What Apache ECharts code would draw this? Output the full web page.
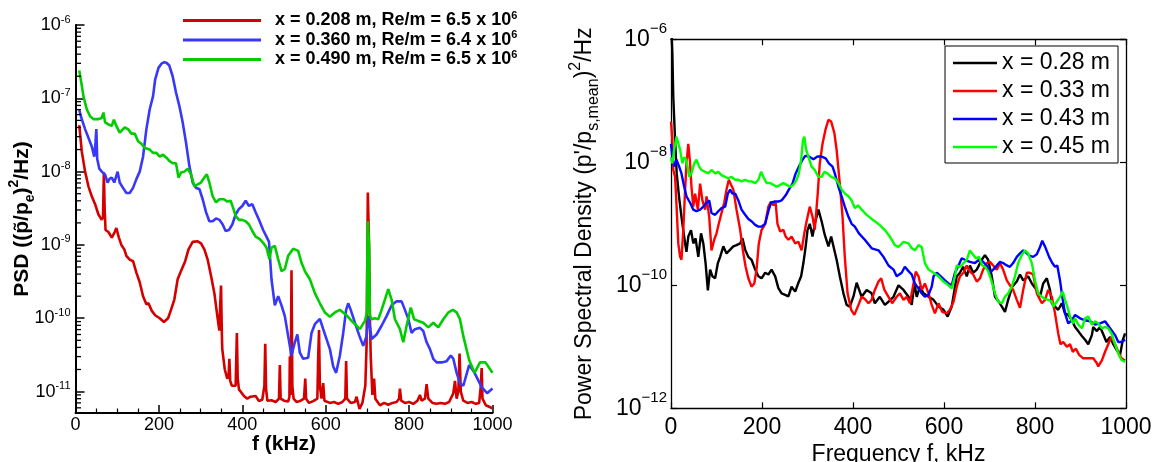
<!DOCTYPE html>
<html>
<head>
<meta charset="utf-8">
<script src="https://cdn.jsdelivr.net/npm/echarts@6/dist/echarts.min.js"></script>
<style>
  html, body { margin: 0; padding: 0; background: #ffffff; }
  #chart { width: 1154px; height: 462px; }
</style>
</head>
<body>
<div id="chart"></div>
<script>
// ---------- Left panel: PSD at three stations, Re/m ~ 6.5e6 ----------
const leftNames = [
  'x = 0.208 m, Re/m = 6.5 x 10^6',
  'x = 0.360 m, Re/m = 6.4 x 10^6',
  'x = 0.490 m, Re/m = 6.5 x 10^6'
];

// [frequency kHz, PSD]
const psd208 = [[9,4.3e-8],[15,1.9e-8],[23,1.0e-8],[31,6.3e-9],[39,4.6e-9],[47,3.6e-9],[55,2.6e-9],[63,2.2e-9],[66,2.4e-9],[68,9.8e-9],[70,3e-9],[72,1.6e-9],[79,1.5e-9],[87,1.26e-9],[94,1.5e-9],[98,1.7e-9],[104,1.26e-9],[110,1.0e-9],[117,8.7e-10],[122,7.1e-10],[130,6.3e-10],[138,6.0e-10],[146,4.2e-10],[154,3.1e-10],[162,2.0e-10],[170,1.55e-10],[175,1.6e-10],[183,1.26e-10],[191,1.1e-10],[202,1.0e-10],[212,8.9e-11],[222,1.0e-10],[229,1.3e-10],[237,1.8e-10],[245,3.4e-10],[253,4.4e-10],[263,6.0e-10],[271,8.7e-10],[281,1.1e-9],[293,1.12e-9],[301,1.05e-9],[309,8.7e-10],[317,6.3e-10],[325,3.8e-10],[333,2.2e-10],[341,9.8e-11],[345,6.8e-11],[347,1.5e-10],[349,2.8e-10],[351,6e-11],[352,3.8e-11],[358,2e-11],[364,1.5e-11],[367,1.6e-11],[369,2.8e-11],[371,1.4e-11],[375,1.2e-11],[384,1.2e-11],[387,6.3e-11],[389,1.5e-11],[392,1.07e-11],[404,8.7e-12],[412,8e-12],[420,8.5e-12],[432,8.7e-12],[440,7.4e-12],[448,7.8e-12],[453,1.2e-11],[455,4.5e-11],[457,1.1e-11],[460,7.5e-12],[470,7.6e-12],[480,7.2e-12],[488,8e-12],[490,2.3e-11],[492,8e-12],[500,7.5e-12],[510,7.3e-12],[513,8.5e-12],[514,3e-11],[516,9e-12],[518,4.5e-10],[520,1.2e-11],[523,8e-12],[530,7.2e-12],[540,7.5e-12],[548,8e-12],[551,1.5e-11],[553,8e-12],[560,7e-12],[570,7.4e-12],[580,8e-12],[582,3e-11],[584,6.9e-11],[586,1.2e-11],[590,8e-12],[594,1.3e-11],[597,7.5e-12],[610,7e-12],[620,7.2e-12],[630,6.8e-12],[640,7.2e-12],[647,8e-12],[649,2.6e-11],[651,8e-12],[660,7e-12],[670,7.2e-12],[674,8.5e-12],[681,5.8e-12],[688,7e-12],[695,1.2e-11],[698,4.2e-11],[700,1e-9],[701,5.2e-9],[703,5.2e-9],[704,1e-9],[706,1e-10],[708,3e-11],[712,9e-12],[716,1.5e-11],[719,8e-12],[730,6.5e-12],[740,7e-12],[750,6.6e-12],[760,7e-12],[770,7.2e-12],[776,8e-12],[778,1.1e-11],[781,7.5e-12],[790,7e-12],[800,7.2e-12],[810,6.8e-12],[820,7.5e-12],[826,9e-12],[830,7.5e-12],[838,8e-12],[842,1.26e-11],[846,8e-12],[856,7e-12],[866,6.8e-12],[876,7e-12],[886,6.8e-12],[896,7.2e-12],[906,9.5e-12],[910,1.4e-11],[914,8e-12],[918,1e-11],[921,3.3e-11],[924,1.0e-11],[930,7.5e-12],[940,7e-12],[950,7.2e-12],[960,6.8e-12],[968,7e-12],[972,1.2e-11],[974,2.1e-11],[976,8e-12],[984,6.5e-12],[992,6.2e-12],[1000,5.9e-12]];

const psd360 = [[9,6.9e-8],[15,5.2e-8],[23,3.8e-8],[31,2.9e-8],[39,2.2e-8],[45,1.6e-8],[48,2.5e-8],[50,3.8e-8],[52,1.5e-8],[57,1.1e-8],[63,1.0e-8],[71,9.1e-9],[77,7.1e-9],[82,8e-9],[87,8.3e-9],[93,7.1e-9],[101,1.0e-8],[106,7.1e-9],[114,6.0e-9],[122,5.1e-9],[130,5.1e-9],[138,6e-9],[146,7.9e-9],[154,1.0e-8],[162,1.6e-8],[170,3.8e-8],[178,7.1e-8],[186,1.07e-7],[191,1.8e-7],[199,2.6e-7],[207,3.0e-7],[213,3.1e-7],[218,3.06e-7],[225,2.8e-7],[233,2.0e-7],[241,1.2e-7],[249,7.9e-8],[257,4.7e-8],[265,2.5e-8],[273,1.2e-8],[281,7.1e-9],[289,6.0e-9],[297,5.8e-9],[305,4.2e-9],[313,2.8e-9],[321,2.1e-9],[329,2.1e-9],[337,2.3e-9],[345,2.2e-9],[353,1.9e-9],[360,1.55e-9],[368,1.6e-9],[376,1.9e-9],[384,2.6e-9],[392,3.1e-9],[400,3.4e-9],[408,4.0e-9],[416,3.4e-9],[424,3.6e-9],[432,2.8e-9],[440,2.2e-9],[450,1.6e-9],[458,1.3e-9],[464,1.1e-9],[470,3.4e-10],[478,1.5e-10],[486,2.0e-10],[494,1.5e-10],[502,1.07e-10],[510,5.7e-11],[518,3.1e-11],[526,4.7e-11],[532,6.0e-11],[538,3.4e-11],[546,2.8e-11],[558,2.9e-11],[566,6.3e-11],[574,8.3e-11],[586,9.8e-11],[594,7.1e-11],[602,5.2e-11],[610,3.8e-11],[618,2.2e-11],[625,1.8e-11],[634,3.1e-11],[642,6.3e-11],[649,1.3e-10],[654,1.6e-10],[660,1.3e-10],[670,8.7e-11],[681,5.7e-11],[690,4.2e-11],[698,5.7e-11],[703,1.07e-10],[710,5.2e-11],[722,6.0e-11],[734,7.9e-11],[746,1.07e-10],[758,1.5e-10],[770,1.7e-10],[782,1.7e-10],[790,1.3e-10],[798,9.8e-11],[806,6.3e-11],[814,7.1e-11],[826,7.4e-11],[834,6.7e-11],[842,4.7e-11],[850,3.8e-11],[858,2.8e-11],[866,2.5e-11],[878,2.5e-11],[890,2.6e-11],[900,3.1e-11],[906,2.8e-11],[914,1.8e-11],[922,1.3e-11],[930,1.2e-11],[944,2.3e-11],[957,1.8e-11],[974,1.15e-11],[987,9.5e-12],[1000,1.1e-11]];

const psd490 = [[9,2.4e-7],[15,1.5e-7],[19,1.07e-7],[27,7.1e-8],[35,5.7e-8],[43,5.2e-8],[55,5.2e-8],[63,5.4e-8],[67,6.4e-8],[71,4.7e-8],[79,4.4e-8],[87,4.2e-8],[92,5.1e-8],[98,4.2e-8],[106,3.4e-8],[118,4.0e-8],[126,3.8e-8],[134,3.3e-8],[142,3.3e-8],[150,2.6e-8],[158,2.4e-8],[166,2.1e-8],[178,2.0e-8],[186,1.8e-8],[194,1.8e-8],[202,1.6e-8],[210,1.7e-8],[218,1.55e-8],[225,1.4e-8],[233,1.3e-8],[241,1.3e-8],[247,8.3e-9],[253,9.7e-9],[261,1.0e-8],[269,1.1e-8],[277,9.2e-9],[285,6.3e-9],[293,6.7e-9],[301,7.1e-9],[309,8.3e-9],[315,9.2e-9],[321,7.1e-9],[329,4.6e-9],[337,3.8e-9],[345,4.2e-9],[356,4.2e-9],[364,3.9e-9],[372,4.0e-9],[378,3.2e-9],[384,2.5e-9],[392,2.2e-9],[400,2.2e-9],[408,2.1e-9],[416,1.9e-9],[424,1.55e-9],[432,1.3e-9],[442,1.2e-9],[450,1.07e-9],[458,9.2e-10],[465,6.4e-10],[470,9.2e-10],[478,9.7e-10],[486,6.4e-10],[494,4.4e-10],[502,4.7e-10],[510,7.1e-10],[522,8.9e-10],[534,8.3e-10],[542,5.7e-10],[550,4.4e-10],[562,3.4e-10],[574,2.2e-10],[586,1.6e-10],[598,1.2e-10],[610,1.05e-10],[622,1.2e-10],[634,1.3e-10],[642,1.2e-10],[652,1.07e-10],[662,9.2e-11],[674,7.9e-11],[682,7.1e-11],[694,9.2e-11],[699,1.2e-10],[700,1e-9],[701,2.1e-9],[703,2.1e-9],[704,1e-9],[706,1.1e-10],[710,9.7e-11],[718,1.0e-10],[726,9.7e-11],[734,1.3e-10],[742,1.8e-10],[750,2.5e-10],[758,1.8e-10],[766,9.7e-11],[778,7.1e-11],[786,4.7e-11],[794,7.9e-11],[804,1.4e-10],[812,9.7e-11],[822,9.2e-11],[834,8.7e-11],[846,7.5e-11],[858,8.7e-11],[870,7.5e-11],[882,9.7e-11],[894,1.2e-10],[905,1.3e-10],[914,1.2e-10],[922,9.7e-11],[930,5.7e-11],[944,2.7e-11],[957,1.8e-11],[970,2.5e-11],[983,2.5e-11],[1000,1.8e-11]];

// ---------- Right panel: PSD at four stations ----------
const rightNames = ['x = 0.28 m', 'x = 0.33 m', 'x = 0.43 m', 'x = 0.45 m'];

const psd028 = [[1,1.5e-6],[3,6e-7],[5,1.17e-7],[9,2.3e-8],[12.5,6.6e-9],[17.6,2.8e-9],[23,1.3e-9],[31,4.8e-10],[34,3.5e-10],[38,6.2e-10],[44,7.9e-10],[49,4.8e-10],[54,5.8e-10],[60,2.9e-10],[66,7e-10],[71,4.8e-10],[76,2.3e-10],[81,8.3e-11],[86,1.8e-10],[91,1.4e-10],[97,1.3e-10],[103,2.3e-10],[108,2.9e-10],[115,4.3e-10],[122,3.3e-10],[130,3.8e-10],[137,4.3e-10],[144,4.5e-10],[152,4.8e-10],[157,5.8e-10],[163,3.8e-10],[170,2.9e-10],[177,2.6e-10],[185,1.8e-10],[192,1.4e-10],[199,1.3e-10],[207,1.6e-10],[214,1.5e-10],[221,1.8e-10],[229,1.4e-10],[236,9e-11],[243,7.4e-11],[251,7e-11],[258,6.6e-11],[265,9.5e-11],[273,7.9e-11],[280,1.1e-10],[286,1.4e-10],[291,2.3e-10],[296,4.3e-10],[300,7.9e-10],[305,1.0e-9],[311,6.2e-10],[316,1.0e-9],[324,1.7e-9],[331,1.1e-9],[338,6.6e-10],[346,4.3e-10],[352,6.2e-10],[357,4.3e-10],[364,2.6e-10],[371,1.4e-10],[379,7.4e-11],[386,4.8e-11],[393,4.5e-11],[401,6.6e-11],[408,1.1e-10],[412,1.07e-10],[419,6.5e-11],[430,8.4e-11],[441,7.4e-11],[448,5.1e-11],[459,6.5e-11],[470,4.8e-11],[478,5.4e-11],[489,6.5e-11],[500,1.0e-10],[511,8.4e-11],[522,6.5e-11],[529,4.8e-11],[535,1.07e-10],[540,6.5e-11],[547,9.5e-11],[555,7.4e-11],[566,6.5e-11],[577,5.8e-11],[588,4.5e-11],[599,4e-11],[608,3.1e-11],[617,4.5e-11],[623,8.4e-11],[628,1.4e-10],[635,1.6e-10],[642,2.0e-10],[650,1.4e-10],[657,2.1e-10],[664,1.6e-10],[672,1.8e-10],[683,2.6e-10],[690,3.1e-10],[697,2.6e-10],[705,1.4e-10],[712,6.5e-11],[723,5.1e-11],[734,3.7e-11],[741,5.8e-11],[750,9.5e-11],[760,1.15e-10],[767,1.5e-10],[774,1.2e-10],[785,1.4e-10],[793,1.07e-10],[804,8.4e-11],[811,6.5e-11],[818,1.07e-10],[826,1.3e-10],[833,8.4e-11],[837,5.1e-11],[844,4.5e-11],[851,4e-11],[859,5.1e-11],[866,3.5e-11],[873,3.3e-11],[881,2.7e-11],[888,2.1e-11],[895,1.8e-11],[903,1.5e-11],[910,1.3e-11],[917,1.1e-11],[925,1.55e-11],[928,2.1e-11],[936,1.8e-11],[943,2.1e-11],[950,1.6e-11],[957,1.2e-11],[965,1.45e-11],[972,1.1e-11],[979,9e-12],[987,7.4e-12],[993,1.3e-11],[998,1.65e-11]];

const psd033 = [[0,4.6e-8],[3,2.3e-8],[5,7.5e-9],[9,5.8e-9],[12,2.1e-9],[16,4.8e-10],[20,2.9e-10],[23,2.6e-10],[27,8e-10],[31,3.6e-9],[34,9.6e-9],[38,2.0e-8],[42,9.6e-9],[45,4.0e-9],[49,1.9e-9],[53,3.1e-9],[59,1.7e-9],[64,4.5e-9],[69,2.4e-9],[75,1.7e-9],[78,2.8e-9],[84,1.3e-9],[89,3.7e-10],[95,5.5e-10],[100,7e-10],[105,1.0e-9],[111,1.5e-9],[117,2.2e-9],[122,3.6e-9],[127,5.2e-9],[132,4.3e-9],[137,3.6e-9],[144,1.7e-9],[152,8e-10],[158,3.7e-10],[164,2e-10],[170,1.3e-10],[177,9.5e-11],[183,1.07e-10],[188,1.8e-10],[193,4.8e-10],[199,7.9e-10],[207,1.0e-9],[214,1.9e-9],[220,2.3e-9],[225,2.0e-9],[230,2.2e-9],[234,1.0e-9],[240,7.5e-10],[247,8e-10],[252,6.2e-10],[258,5.5e-10],[265,6.2e-10],[273,4.8e-10],[280,5.1e-10],[287,3.7e-10],[293,7e-10],[298,1.1e-9],[305,1.9e-9],[311,1.3e-9],[316,8e-10],[322,2.8e-9],[327,9.6e-9],[333,2.0e-8],[340,3.5e-8],[346,4.9e-8],[352,4.6e-8],[359,3.0e-8],[364,1.6e-8],[371,4.5e-9],[377,1.3e-9],[382,2.9e-10],[388,7.5e-11],[396,4e-11],[403,3.3e-11],[412,4.8e-11],[419,6.5e-11],[426,6e-11],[434,5.1e-11],[441,5.8e-11],[448,8.4e-11],[456,1.15e-10],[462,1.3e-10],[469,8.4e-11],[478,6.5e-11],[486,5.1e-11],[496,6.5e-11],[503,7.4e-11],[511,5.8e-11],[518,6.5e-11],[525,5.1e-11],[533,1.07e-10],[538,1.67e-10],[544,1.4e-10],[551,8.4e-11],[558,1.07e-10],[566,7.4e-11],[573,4.8e-11],[580,3.5e-11],[588,5.1e-11],[596,3.7e-11],[606,3.5e-11],[613,4e-11],[621,5.4e-11],[628,9.5e-11],[635,1.4e-10],[643,1.6e-10],[650,2.1e-10],[657,1.67e-10],[664,1.5e-10],[672,1.15e-10],[679,1.3e-10],[686,1.8e-10],[694,2.3e-10],[701,2.4e-10],[708,2.1e-10],[716,1.8e-10],[723,2.3e-10],[730,1.8e-10],[738,1.2e-10],[745,1.0e-10],[752,8.4e-11],[760,5.8e-11],[767,4.3e-11],[774,8.4e-11],[782,1.6e-10],[789,1.6e-10],[796,1.5e-10],[804,7.4e-11],[815,5.1e-11],[822,5.8e-11],[829,8.4e-11],[837,6.5e-11],[844,3.5e-11],[851,1.65e-11],[856,1.1e-11],[862,1.2e-11],[870,1.0e-11],[877,1.1e-11],[883,8.3e-12],[890,9.3e-12],[897,7.4e-12],[906,6.5e-12],[917,6.5e-12],[928,6.5e-12],[936,5.4e-12],[939,4.8e-12],[947,6.0e-12],[954,8.3e-12],[961,1.1e-11],[968,1.45e-11],[976,1.1e-11],[983,8.3e-12],[990,6.5e-12],[998,6e-12]];

const psd043 = [[0,2.0e-8],[3,1.2e-8],[7,8.5e-9],[12,1.1e-8],[18,8.5e-9],[23,6.6e-9],[29,4.0e-9],[34,2.8e-9],[42,2.2e-9],[49,1.7e-9],[56,1.6e-9],[64,1.7e-9],[71,1.9e-9],[78,2.2e-9],[84,2.4e-9],[89,1.5e-9],[97,1.4e-9],[104,1.6e-9],[111,1.8e-9],[119,1.9e-9],[125,3.1e-9],[130,3.6e-9],[135,3.1e-9],[141,3.1e-9],[148,2.4e-9],[155,1.7e-9],[163,1.4e-9],[170,1.2e-9],[177,1.1e-9],[185,9.6e-10],[192,9e-10],[199,9e-10],[207,1.0e-9],[214,1.6e-9],[220,2.2e-9],[227,2.3e-9],[236,2.3e-9],[243,2.4e-9],[252,2.9e-9],[259,3.6e-9],[267,4.5e-9],[274,6.6e-9],[281,8.5e-9],[289,1.1e-8],[295,1.27e-8],[303,1.24e-8],[313,1.12e-8],[322,1.24e-8],[331,1.24e-8],[340,1.16e-8],[347,9.6e-9],[355,8.5e-9],[360,6.6e-9],[368,4e-9],[375,2.8e-9],[382,1.9e-9],[390,1.3e-9],[397,1.0e-9],[404,9e-10],[413,7e-10],[426,5.5e-10],[441,4.0e-10],[456,3.7e-10],[467,2.9e-10],[478,2.1e-10],[489,1.8e-10],[496,1.4e-10],[507,1.6e-10],[514,2.0e-10],[522,1.7e-10],[529,1.5e-10],[536,1.07e-10],[544,8.9e-11],[551,7.4e-11],[558,6.5e-11],[566,7e-11],[573,9.5e-11],[577,1.4e-10],[584,1.6e-10],[593,1.4e-10],[602,1.2e-10],[610,1.07e-10],[617,1.0e-10],[624,1.6e-10],[632,2.1e-10],[639,2.75e-10],[646,2.6e-10],[657,2.4e-10],[668,2.3e-10],[677,2.6e-10],[686,2.4e-10],[694,2.1e-10],[701,1.6e-10],[708,1.8e-10],[716,2.1e-10],[723,2.4e-10],[730,2.3e-10],[738,2.1e-10],[745,2.0e-10],[752,2.3e-10],[760,2.9e-10],[767,3.3e-10],[774,3.7e-10],[782,3.3e-10],[789,3.0e-10],[796,2.9e-10],[804,3.2e-10],[811,4.2e-10],[816,5.3e-10],[823,4.1e-10],[831,2.9e-10],[838,2.3e-10],[844,2e-10],[849,2.1e-10],[855,1.2e-10],[860,6.5e-11],[866,3.5e-11],[873,2.4e-11],[881,2.7e-11],[888,3.3e-11],[899,2.9e-11],[910,2.7e-11],[921,2.6e-11],[932,2.3e-11],[943,2.4e-11],[954,2.6e-11],[965,2e-11],[976,1.55e-11],[983,1.2e-11],[990,1.2e-11],[998,1.3e-11]];

const psd045 = [[0,1.2e-8],[3,9.6e-9],[7,1.6e-8],[12,2.6e-8],[16,2.8e-8],[20,1.6e-8],[25,9.6e-9],[29,1.2e-8],[34,1.1e-8],[40,5.8e-9],[45,6.6e-9],[51,9.6e-9],[56,1.1e-8],[62,8.5e-9],[67,7.5e-9],[75,7e-9],[82,6.6e-9],[89,7.5e-9],[97,6.6e-9],[104,7e-9],[111,6.2e-9],[119,5.8e-9],[126,5.5e-9],[133,5.8e-9],[141,5.2e-9],[148,5.2e-9],[155,4.9e-9],[163,5.2e-9],[170,4.9e-9],[177,4.9e-9],[185,4.6e-9],[192,5.2e-9],[198,7e-9],[203,5.8e-9],[210,4.6e-9],[218,4.6e-9],[225,4.3e-9],[232,4.0e-9],[240,4.3e-9],[247,4.6e-9],[254,4.3e-9],[262,4.0e-9],[269,4.3e-9],[276,5.2e-9],[281,6.6e-9],[286,1.1e-8],[290,2.3e-8],[293,2.6e-8],[297,1.6e-8],[302,1.24e-8],[309,8.5e-9],[316,7.5e-9],[324,5.8e-9],[331,5.8e-9],[337,7e-9],[344,6.6e-9],[352,5.8e-9],[360,5.5e-9],[368,4.6e-9],[375,3.6e-9],[382,3.1e-9],[390,2.8e-9],[397,2.4e-9],[404,1.8e-9],[411,2.0e-9],[419,1.7e-9],[430,1.4e-9],[441,1.2e-9],[448,1.1e-9],[459,9.5e-10],[470,7.9e-10],[481,6.2e-10],[492,4.5e-10],[500,4.2e-10],[511,5.1e-10],[522,4.8e-10],[529,4.0e-10],[536,3.7e-10],[544,4.5e-10],[551,4.2e-10],[558,2.3e-10],[566,1.8e-10],[577,1.6e-10],[588,1.4e-10],[599,1.15e-10],[610,1.0e-10],[617,8.9e-11],[624,1.4e-10],[628,2.1e-10],[635,2.0e-10],[643,2.3e-10],[650,2.6e-10],[657,3.7e-10],[662,3.3e-10],[670,2.75e-10],[677,2.9e-10],[684,2.1e-10],[690,2.0e-10],[697,1.7e-10],[705,1.15e-10],[712,7.4e-11],[719,5.4e-11],[727,5.1e-11],[734,6.5e-11],[741,7.4e-11],[749,9.5e-11],[756,1.4e-10],[763,2.3e-10],[771,3.1e-10],[778,3.7e-10],[785,3.3e-10],[793,2.3e-10],[800,1.2e-10],[807,7.4e-11],[815,6.5e-11],[822,6e-11],[829,5.8e-11],[837,5.5e-11],[840,4.5e-11],[848,5.4e-11],[855,6.5e-11],[861,7.9e-11],[866,5.8e-11],[871,4.5e-11],[877,3.1e-11],[883,2.4e-11],[888,2.9e-11],[895,2.3e-11],[903,2e-11],[910,2.9e-11],[917,3.1e-11],[925,2.3e-11],[932,2.6e-11],[939,2.4e-11],[947,2e-11],[954,2.1e-11],[961,2e-11],[968,1.65e-11],[976,1.1e-11],[983,7.8e-12],[990,6.1e-12],[998,5.7e-12]];

// Axis ranges and tick settings
const freqTicks = { min: 0, max: 1000, interval: 200 };
const leftYRange = [5.1e-12, 1e-6];
const rightYRange = [1e-12, 1e-6];

const FONT = '"Liberation Sans", Arial, Helvetica, sans-serif';
const leftColors = ['#d40000', '#3838f8', '#00cc00'];
const rightColors = ['#000000', '#ff0000', '#0000ff', '#00ff00'];

// "10" with a raised exponent; blank for values off the decades
function powerLabel(minus) {
  return function (v) {
    const l = Math.log10(v);
    const e = Math.round(l);
    if (Math.abs(l - e) > 1e-6) return '';
    return '{b|10}{s|' + (e < 0 ? minus + Math.abs(e) : e) + '}';
  };
}
const plainNumber = v => String(v);

// minor decade ticks (2..9 x 10^n) for the left log axis
const leftMinorTicks = [];
for (let e = -12; e <= -7; e++) {
  for (let k = 2; k <= 9; k++) {
    const v = k * Math.pow(10, e);
    if (v >= leftYRange[0] && v <= leftYRange[1]) leftMinorTicks.push([0, v]);
  }
}

const blackLine = { lineStyle: { color: '#000', width: 2 } };
const thinBox = { lineStyle: { color: '#000', width: 1.3 } };

function lineSeries(name, data, color, xi, yi, width) {
  return {
    type: 'line', name: name, data: data, color: color,
    xAxisIndex: xi, yAxisIndex: yi, symbol: 'none', showSymbol: false,
    lineStyle: { width: width, color: color }, animation: false, silent: true
  };
}

const option = {
  animation: false,
  backgroundColor: '#ffffff',
  textStyle: { fontFamily: FONT },
  grid: [
    { left: 75.5, top: 25, width: 417, height: 388, containLabel: false, outerBoundsMode: 'none' },
    { left: 671, top: 39.3, width: 455, height: 369, containLabel: false, outerBoundsMode: 'none' }
  ],
  legend: [
    {
      data: leftNames, orient: 'vertical', left: 183, top: 10, padding: 0,
      icon: 'rect', itemWidth: 78, itemHeight: 3, itemGap: 0, selectedMode: false,
      formatter: n => '{g|}{t|' + n.replace(/10\^6$/, '10') + '}{s|6}',
      textStyle: {
        rich: {
          g: { width: 9 },
          t: { fontFamily: FONT, fontWeight: 'bold', fontSize: 18, lineHeight: 21, color: '#000' },
          s: { fontFamily: FONT, fontWeight: 'bold', fontSize: 11, lineHeight: 11, verticalAlign: 'top', color: '#000' }
        }
      }
    },
    {
      data: rightNames, orient: 'vertical', left: 945, top: 46, padding: [3, 8, 2, 8],
      icon: 'rect', itemWidth: 44, itemHeight: 2.5, itemGap: 0, selectedMode: false,
      borderColor: '#000', borderWidth: 1, backgroundColor: '#fff',
      textStyle: { fontFamily: FONT, fontSize: 23, lineHeight: 28, color: '#000' }
    }
  ],
  xAxis: [
    {
      gridIndex: 0, type: 'value', position: 'bottom', ...freqTicks,
      axisLine: { show: true, onZero: false, ...blackLine },
      axisTick: { show: true, inside: true, length: 8, lineStyle: { color: '#000', width: 1.5 } },
      minorTick: { show: true, splitNumber: 4, length: 4.5, lineStyle: { color: '#000', width: 1.2 } },
      splitLine: { show: false },
      axisLabel: { fontFamily: FONT, fontSize: 18, color: '#000', margin: 3, formatter: plainNumber },
      name: 'f (kHz)', nameLocation: 'middle', nameGap: 21, nameMoveOverlap: false,
      nameTextStyle: { fontFamily: FONT, fontSize: 21, fontWeight: 'bold', color: '#000' }
    },
    {
      gridIndex: 1, type: 'value', position: 'bottom', ...freqTicks,
      axisLine: { show: true, onZero: false, ...thinBox },
      axisTick: { show: true, inside: true, length: 6, lineStyle: { color: '#000', width: 1.2 } },
      splitLine: { show: false },
      axisLabel: { fontFamily: FONT, fontSize: 23, color: '#000', margin: 8, formatter: plainNumber },
      name: 'Frequency f, kHz', nameLocation: 'middle', nameGap: 35, nameMoveOverlap: false,
      nameTextStyle: { fontFamily: FONT, fontSize: 23, color: '#000' }
    },
    {
      gridIndex: 1, type: 'value', position: 'top', ...freqTicks,
      axisLine: { show: true, onZero: false, ...thinBox },
      axisTick: { show: true, inside: true, length: 6, lineStyle: { color: '#000', width: 1.2 } },
      splitLine: { show: false }, axisLabel: { show: false }
    }
  ],
  yAxis: [
    {
      gridIndex: 0, type: 'log', logBase: 10, min: leftYRange[0], max: leftYRange[1],
      axisLine: { show: true, onZero: false, ...blackLine },
      axisTick: { show: true, inside: true, length: 9, lineStyle: { color: '#000', width: 1.5 } },
      splitLine: { show: false },
      axisLabel: {
        margin: 5, formatter: powerLabel('-'),
        rich: {
          b: { fontFamily: FONT, fontSize: 18, lineHeight: 22, color: '#000' },
          s: { fontFamily: FONT, fontSize: 11, lineHeight: 11, verticalAlign: 'top', color: '#000' }
        }
      },
      name: '{a|PSD ((p\u0303/p}{sub|e}{a|)}{sup|2}{a|/Hz)}',
      nameLocation: 'middle', nameRotate: 90, nameGap: 38, nameMoveOverlap: false,
      nameTextStyle: {
        rich: {
          a: { fontFamily: FONT, fontSize: 21, fontWeight: 'bold', lineHeight: 30, color: '#000' },
          sub: { fontFamily: FONT, fontSize: 14, fontWeight: 'bold', lineHeight: 14, verticalAlign: 'bottom', color: '#000' },
          sup: { fontFamily: FONT, fontSize: 14, fontWeight: 'bold', lineHeight: 14, verticalAlign: 'top', color: '#000' }
        }
      }
    },
    {
      gridIndex: 1, type: 'log', logBase: 100, min: rightYRange[0], max: rightYRange[1],
      axisLine: { show: true, onZero: false, ...thinBox },
      axisTick: { show: true, inside: true, length: 6, lineStyle: { color: '#000', width: 1.2 } },
      splitLine: { show: false },
      axisLabel: {
        margin: 4, formatter: powerLabel('\u2212'),
        rich: {
          b: { fontFamily: FONT, fontSize: 23, lineHeight: 36, color: '#000' },
          s: { fontFamily: FONT, fontSize: 15, lineHeight: 15, verticalAlign: 'top', color: '#000' }
        }
      },
      name: '{a|Power Spectral Density (p\'/p}{sub|s,mean}{a|)}{sup|2}{a|/Hz}',
      nameLocation: 'middle', nameRotate: 90, nameGap: 69, nameMoveOverlap: false,
      nameTextStyle: {
        rich: {
          a: { fontFamily: FONT, fontSize: 23, lineHeight: 34, color: '#000' },
          sub: { fontFamily: FONT, fontSize: 16, lineHeight: 16, verticalAlign: 'bottom', color: '#000' },
          sup: { fontFamily: FONT, fontSize: 16, lineHeight: 16, verticalAlign: 'top', color: '#000' }
        }
      }
    },
    {
      gridIndex: 1, type: 'log', logBase: 100, position: 'right', min: rightYRange[0], max: rightYRange[1],
      axisLine: { show: true, onZero: false, ...thinBox },
      axisTick: { show: true, inside: true, length: 6, lineStyle: { color: '#000', width: 1.2 } },
      splitLine: { show: false }, axisLabel: { show: false }
    }
  ],
  series: [
    lineSeries(leftNames[0], psd208, leftColors[0], 0, 0, 2.6),
    lineSeries(leftNames[1], psd360, leftColors[1], 0, 0, 2.6),
    lineSeries(leftNames[2], psd490, leftColors[2], 0, 0, 2.6),
    {
      type: 'custom', xAxisIndex: 0, yAxisIndex: 0, silent: true, z: 10, clip: false,
      encode: { x: 0, y: 1 },
      data: leftMinorTicks,
      renderItem: function (params, api) {
        const p = api.coord([api.value(0), api.value(1)]);
        return {
          type: 'line',
          shape: { x1: p[0], y1: p[1], x2: p[0] + 5.5, y2: p[1] },
          style: { stroke: '#000', lineWidth: 1.3 }
        };
      }
    },
    lineSeries(rightNames[0], psd028, rightColors[0], 1, 1, 2.4),
    lineSeries(rightNames[1], psd033, rightColors[1], 1, 1, 2.4),
    lineSeries(rightNames[2], psd043, rightColors[2], 1, 1, 2.4),
    lineSeries(rightNames[3], psd045, rightColors[3], 1, 1, 2.4)
  ]
};

const chart = echarts.init(document.getElementById('chart'), null, { renderer: 'canvas' });
chart.setOption(option);
</script>
</body>
</html>
